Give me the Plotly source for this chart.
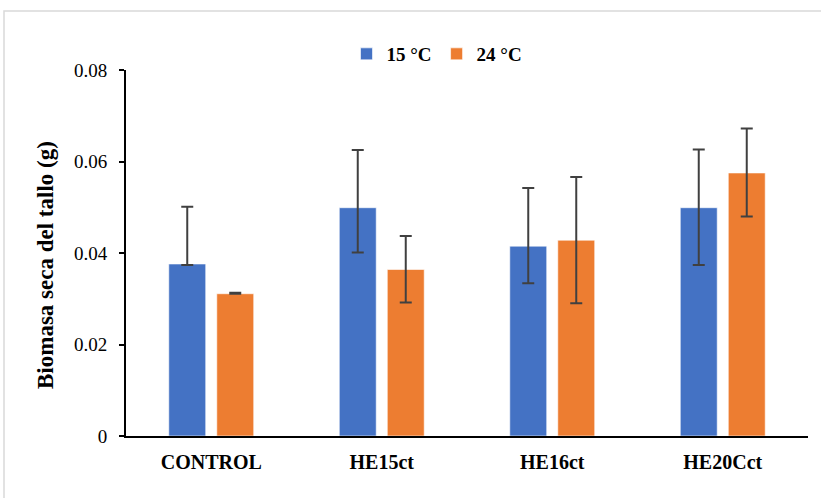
import plotly.graph_objects as go

categories = ["CONTROL", "HE15ct", "HE16ct", "HE20Cct"]
series_names = ["15 °C", "24 °C"]
values_15 = [0.0376, 0.0499, 0.0415, 0.0499]
err_plus_15 = [0.0125, 0.0126, 0.0127, 0.0127]
err_minus_15 = [0.0002, 0.0098, 0.0081, 0.0125]
values_24 = [0.0311, 0.0364, 0.0428, 0.0575]
err_plus_24 = [0.0002, 0.0073, 0.0138, 0.0097]
err_minus_24 = [0.0, 0.0072, 0.0138, 0.0095]
y_ticks = [0, 0.02, 0.04, 0.06, 0.08]
y_tick_labels = ["0", "0.02", "0.04", "0.06", "0.08"]

W, H = 821, 498
blue = "#4472C4"
orange = "#ED7D31"
err_col = "#404040"
font_family = "Liberation Serif, Times New Roman, serif"

fig = go.Figure()
for name, vals, ep, em, col in [
    (series_names[0], values_15, err_plus_15, err_minus_15, blue),
    (series_names[1], values_24, err_plus_24, err_minus_24, orange),
]:
    fig.add_trace(go.Bar(
        x=categories, y=vals, name=name,
        marker=dict(color=col, line=dict(color="rgba(255,255,255,0.6)", width=1)),
        error_y=dict(type="data", array=ep, arrayminus=em, symmetric=False,
                     color=err_col, thickness=2, width=6),
    ))

fig.update_layout(
    width=W, height=H,
    margin=dict(l=0, r=0, t=0, b=0, autoexpand=False),
    paper_bgcolor="white", plot_bgcolor="white",
    barmode="group", bargap=0.437, bargroupgap=0.23,
    font=dict(family=font_family, color="black"),
    showlegend=True,
    legend=dict(orientation="h", x=437 / W, xanchor="center", y=1 - 54 / H, yanchor="middle",
                font=dict(size=19, family=font_family, weight="bold"),
                itemwidth=30, traceorder="normal", bgcolor="rgba(0,0,0,0)"),
    xaxis=dict(domain=[126 / W, 808 / W], showline=True, linecolor="black", linewidth=2,
               ticks="", tickfont=dict(size=20, family=font_family, weight="bold"),
               ticklabelstandoff=7, showgrid=False, automargin=False),
    yaxis=dict(domain=[1 - 436 / H, 1 - 70 / H], range=[0, 0.08], tickvals=y_ticks,
               ticktext=y_tick_labels, showline=True, linecolor="black", linewidth=2,
               ticks="outside", ticklen=5, tickwidth=1.5, tickcolor="black",
               tickfont=dict(size=19, family=font_family), ticklabelstandoff=8,
               showgrid=False, zeroline=False, automargin=False),
    annotations=[dict(text="<b>Biomasa seca del tallo (g)</b>", xref="paper", yref="paper",
                      x=45 / W, y=1 - 265 / H, textangle=-90, showarrow=False,
                      font=dict(size=23, family=font_family, color="black"),
                      xanchor="center", yanchor="middle")],
    shapes=[dict(type="rect", xref="paper", yref="paper", x0=4 / W, y0=-0.05, x1=1.05,
                 y1=1 - 11 / H, line=dict(color="#D9D9D9", width=1.5), fillcolor="rgba(0,0,0,0)",
                 layer="below")],
)

fig.write_html("out.html")
